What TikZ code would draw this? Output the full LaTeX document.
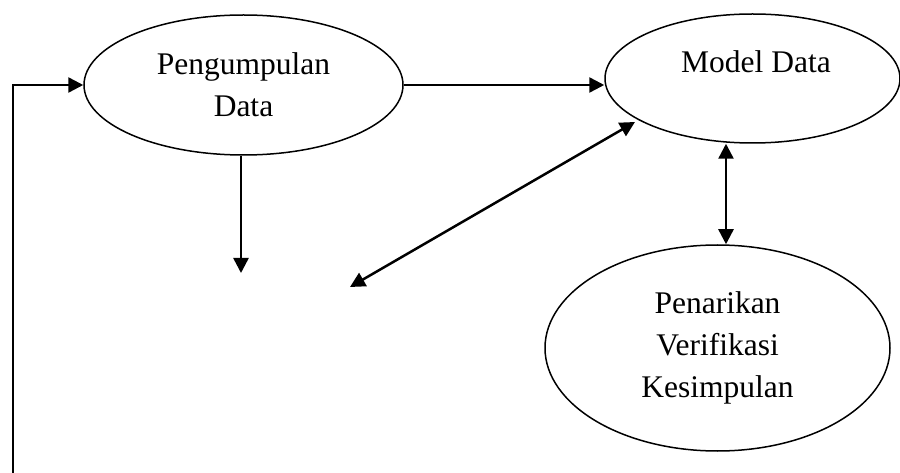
\documentclass[tikz,border=0pt]{standalone}
\usepackage{fontspec}
\setmainfont{Liberation Serif}
\usetikzlibrary{shapes.geometric,arrows.meta}
\tikzset{
  proc/.style={draw, ellipse, line width=1.5pt, inner sep=0pt, align=center,
    font=\fontsize{31.5}{42}\selectfont},
  lbl/.style={inner sep=0pt, align=center, font=\fontsize{31.5}{42}\selectfont},
  conn/.style={line width=2.5pt, -{Triangle[length=15pt,width=15pt]}},
  dconn/.style={line width=2.5pt, {Triangle[length=15pt,width=15pt]}-{Triangle[length=15pt,width=15pt]}},
}
\begin{document}
\begin{tikzpicture}[x=1pt,y=-1pt]
\useasboundingbox (0,0) rectangle (900,473);
\node[proc, minimum width=319pt, minimum height=140pt] (e1) at (243.5,85) {Pengumpulan\\Data};
\node[proc, minimum width=295pt, minimum height=129pt] (e2) at (752.5,78.5) {};
\node[lbl] (t2) at (756,62) {Model Data};
\node[proc, minimum width=345pt, minimum height=206pt] (e3) at (717.5,348) {Penarikan\\Verifikasi\\Kesimpulan};
\coordinate (L) at (13,473);
\coordinate (d1) at (241,273);
\coordinate (d2) at (350,287);
\coordinate (d3) at (635,122);
\coordinate (d4) at (726,0);
\draw[conn] (L) |- (e1.west);
\draw[conn] (e1.east) -- (e2.west |- e1.east);
\draw[conn] (e1.south -| d1) -- (d1);
\draw[dconn] (d2) -- (d3);
\draw[dconn] (e2.south -| d4) -- (e3.north -| d4);
\end{tikzpicture}
\end{document}
